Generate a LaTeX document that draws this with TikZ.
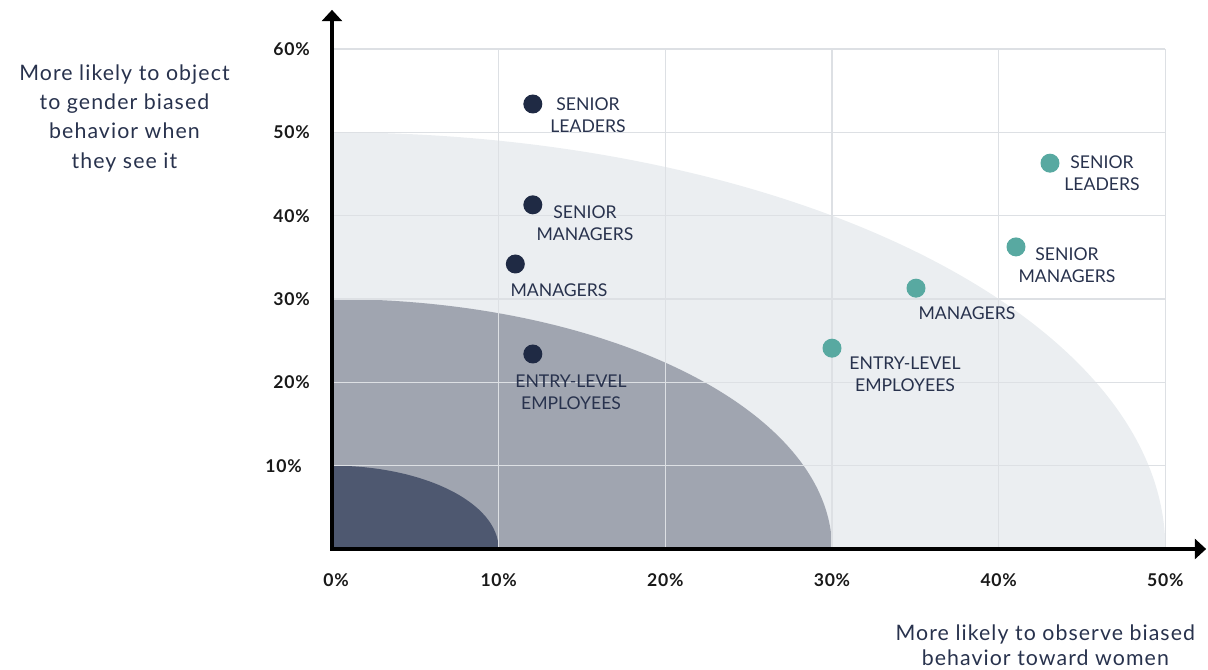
\documentclass[tikz,border=0pt]{standalone}
\usepackage{fontspec}
\setmainfont{Lato}
\newfontfamily\titlefont[LetterSpace=5]{Lato}
\newfontfamily\tickfont[LetterSpace=4]{Lato}
\usetikzlibrary{arrows.meta}
\usetikzlibrary{positioning}
\definecolor{ZoneLight}{HTML}{EBEEF1}
\definecolor{ZoneMid}{HTML}{A0A5B0}
\definecolor{ZoneDark}{HTML}{4E5870}
\definecolor{DotNavy}{HTML}{1F2A44}
\definecolor{DotTeal}{HTML}{58A9A1}
\definecolor{GridGray}{HTML}{DDE0E4}
\definecolor{TextNavy}{HTML}{28324D}
\tikzstyle{GridLine}  = [draw=GridGray, line width=1.1pt]
\tikzstyle{Axis}      = [draw=black, line width=2.4pt, line cap=rect, -{Triangle[width=15pt,length=8.5pt]}]
\tikzstyle{BasicDot}  = [circle, inner sep=0pt, minimum size=14.25pt]
\tikzstyle{DotDark}   = [BasicDot, fill=DotNavy]
\tikzstyle{DotGreen}  = [BasicDot, fill=DotTeal]
\tikzstyle{Group}     = [text=TextNavy, align=center, inner sep=0pt, font=\fontsize{13.2}{16.5}\selectfont]
\tikzstyle{Tick}      = [text=black!90, inner sep=0pt, font=\tickfont\bfseries\fontsize{13.2}{15}\selectfont]
\tikzstyle{AxisTitle} = [text=TextNavy, align=center, inner sep=0pt]
\begin{document}
\begin{tikzpicture}[x=12.5pt, y=6.25pt]

\useasboundingbox (-19.92,-14.52) rectangle (52.56,65.88);

%% ------------------------------------------------------------ [ Zones ]
\fill[ZoneLight] (0,0) -- (50,0) arc[start angle=0, end angle=90, radius=50] -- cycle;
\fill[ZoneMid]   (0,0) -- (30,0) arc[start angle=0, end angle=90, radius=30] -- cycle;
\fill[ZoneDark]  (0,0) -- (10,0) arc[start angle=0, end angle=90, radius=10] -- cycle;

%% ------------------------------------------------------------- [ Grid ]
\foreach \gx in {10,20,...,50}
  \draw[GridLine] (\gx,0) -- (\gx,60);
\foreach \gy in {10,20,...,60}
  \draw[GridLine] (0,\gy) -- (50,\gy);

%% ------------------------------------------------------------- [ Axes ]
\coordinate (origin) at (0,0);
\coordinate (ytop)   at (0,64.7);
\coordinate (xend)   at (52.45,0);
\draw[Axis] (origin) -- (ytop);
\draw[Axis] (origin) -- (xend);

\foreach \gy in {20,30,...,60}
  \node (ytick\gy) [Tick, anchor=east] at (-1.32,\gy) {\gy\%};
\node (ytick10) [Tick, anchor=east] at (-1.8,10) {10\%};
\node (xtick0) [Tick] at (0.25,-3.7) {0\%};
\foreach \gx in {10,20,...,50}
  \node (xtick\gx) [Tick] at (\gx,-3.7) {\gx\%};

\node (ytitle) [AxisTitle, font=\titlefont\fontsize{16}{22}\selectfont] at (-12.45,51.7)
  {More likely to object\\to gender biased\\behavior when\\they see it};
\node (xtitle) [AxisTitle, font=\titlefont\fontsize{16}{18.8}\selectfont] at (42.8,-11.6)
  {More likely to observe biased\\behavior toward women};

%% ------------------------------------------------- [ Dark group points ]
\node (dLeaders)  [DotDark] at (12.05,53.4) {};
\node (dSeniorMgr)[DotDark] at (12.05,41.3) {};
\node (dManagers) [DotDark] at (11.0,34.2)  {};
\node (dEntry)    [DotDark] at (12.05,23.4) {};

\node (dLeadersLbl)   [Group] at (15.36,52.1)  {SENIOR\\LEADERS};
\node (dSeniorMgrLbl) [Group] at (15.18,39.1)  {SENIOR\\MANAGERS};
\node (dManagersLbl)  [Group] at (13.62,31.1)  {MANAGERS};
\node (dEntryLbl)     [Group] at (14.34,18.85) {ENTRY-LEVEL\\EMPLOYEES};

%% ------------------------------------------------ [ Green group points ]
\node (gLeaders)  [DotGreen] at (43.08,46.3)  {};
\node (gSeniorMgr)[DotGreen] at (41.04,36.25) {};
\node (gManagers) [DotGreen] at (35.04,31.3)  {};
\node (gEntry)    [DotGreen] at (30.0,24.1)   {};

\node (gLeadersLbl)   [Group] at (46.2,45.05)  {SENIOR\\LEADERS};
\node (gSeniorMgrLbl) [Group] at (44.1,34.1)   {SENIOR\\MANAGERS};
\node (gManagersLbl)  [Group] at (38.1,28.3)   {MANAGERS};
\node (gEntryLbl)     [Group] at (34.38,20.95) {ENTRY-LEVEL\\EMPLOYEES};
\end{tikzpicture}
\end{document}
